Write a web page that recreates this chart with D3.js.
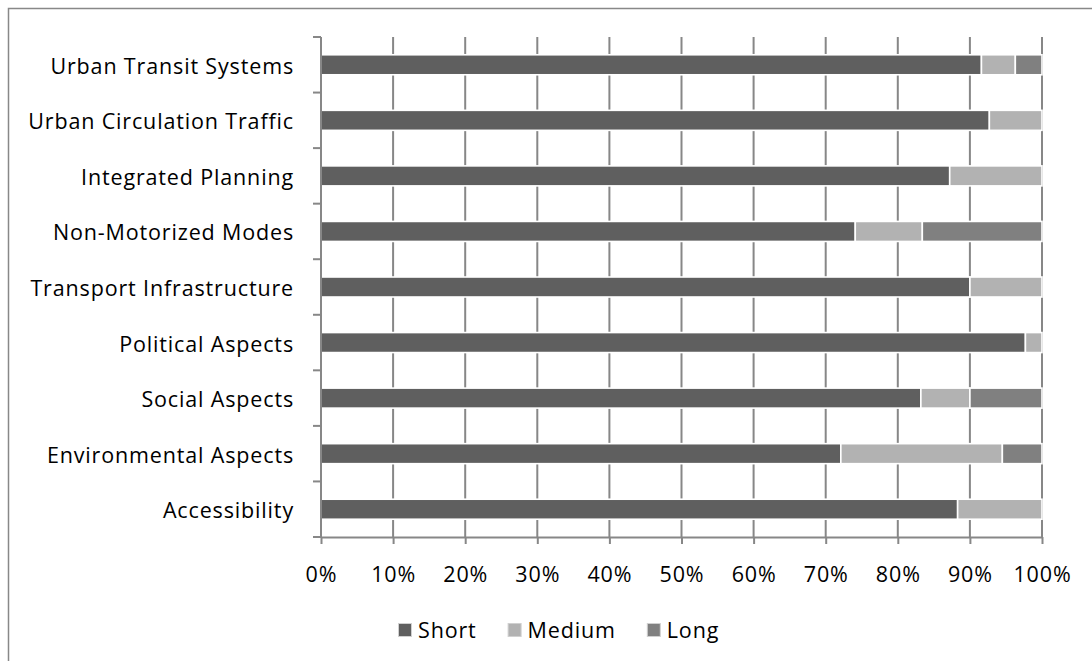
<!DOCTYPE html>
<html><head><meta charset="utf-8">
<script src="https://cdn.jsdelivr.net/npm/d3@7"></script>
<style>
html,body{margin:0;padding:0;background:#fff;}
svg{display:block;font-family:"Open Sans",sans-serif;}
text{letter-spacing:0.85px;}
</style></head>
<body>
<svg id="chart" width="1092" height="661"></svg>
<script>
const categories = ["Urban Transit Systems","Urban Circulation Traffic","Integrated Planning","Non-Motorized Modes","Transport Infrastructure","Political Aspects","Social Aspects","Environmental Aspects","Accessibility"];
const series = ["Short","Medium","Long"];
const shortVals  = [91.6, 92.7, 87.2, 74.1, 90.0, 97.7, 83.2, 72.1, 88.3];
const mediumVals = [4.7, 7.3, 12.8, 9.3, 10.0, 2.3, 6.8, 22.4, 11.7];
const longVals   = [3.7, 0, 0, 16.6, 0, 0, 10.0, 5.5, 0];
const tickValues = [0,10,20,30,40,50,60,70,80,90,100];
const colors = ["#5f5f5f","#b2b2b2","#808080"];

const svg = d3.select("#chart");
const fontSize = 21.5;
const x = d3.scaleLinear().domain([0,100]).range([321,1042]);
const y = d3.scaleBand().domain(categories).range([37,537]).paddingInner(0.64).paddingOuter(0.32);
const yb = d3.scaleBand().domain(categories).range([37,537]);

// outer border
svg.append("rect").attr("x",8.5).attr("y",8.5).attr("width",1200).attr("height",800)
  .attr("fill","none").attr("stroke","#888").attr("stroke-width",1.5);

// gridlines
svg.append("g").selectAll("line").data(tickValues.slice(1)).join("line")
  .attr("x1",d=>x(d)).attr("x2",d=>x(d)).attr("y1",37).attr("y2",537)
  .attr("stroke","#878787").attr("stroke-width",2);

// stacked data
const rows = categories.map((c,i)=>({cat:c, Short:shortVals[i], Medium:mediumVals[i], Long:longVals[i]}));
const stack = d3.stack().keys(series)(rows);
svg.append("g").selectAll("g").data(stack).join("g")
  .attr("fill",(d,i)=>colors[i])
  .selectAll("rect").data(d=>d.filter(p=>p[1]-p[0]>0)).join("rect")
  .attr("x",d=>x(d[0])).attr("width",d=>x(d[1])-x(d[0]))
  .attr("y",d=>y(d.data.cat)).attr("height",y.bandwidth())
  .attr("stroke","#fff").attr("stroke-width",1.6);

// y axis
const yAxisG = svg.append("g");
yAxisG.append("line").attr("x1",321).attr("x2",321).attr("y1",37).attr("y2",537)
  .attr("stroke","#878787").attr("stroke-width",2);
const boundaries = categories.map(c=>yb(c)).concat([537]);
yAxisG.selectAll("line.t").data(boundaries).join("line").attr("class","t")
  .attr("x1",313).attr("x2",321).attr("y1",d=>d).attr("y2",d=>d)
  .attr("stroke","#878787").attr("stroke-width",2);
yAxisG.selectAll("text").data(categories).join("text")
  .attr("x",294).attr("y",d=>yb(d)+yb.bandwidth()/2+9)
  .attr("text-anchor","end")
  .attr("font-size",fontSize).attr("fill","#000").text(d=>d);

// x axis
const xAxis = d3.axisBottom(x).tickValues(tickValues).tickFormat(d=>d+"%").tickSize(7).tickSizeOuter(0);
const xg = svg.append("g").attr("transform","translate(0,537)").call(xAxis);
xg.select(".domain").attr("stroke","#878787").attr("stroke-width",2);
xg.selectAll(".tick line").attr("stroke","#878787").attr("stroke-width",2);
xg.selectAll(".tick text").attr("font-size",fontSize).attr("fill","#000").attr("dy",0).attr("y",45)
  .attr("font-family","'Open Sans',sans-serif");

// legend
const leg = svg.append("g");
let lx = 398;
series.forEach((s,i)=>{
  const g = leg.append("g");
  g.append("rect").attr("x",lx+0.5).attr("y",623.5).attr("width",13).attr("height",13)
    .attr("fill",colors[i]).attr("stroke","#d0d0d0").attr("stroke-width",1);
  const t = g.append("text").attr("x",lx+20).attr("y",638)
    .attr("font-size",fontSize).attr("fill","#000").text(s);
  const w = t.node().getComputedTextLength();
  lx = lx + 20 + w + 31;
});
</script>
</body></html>
